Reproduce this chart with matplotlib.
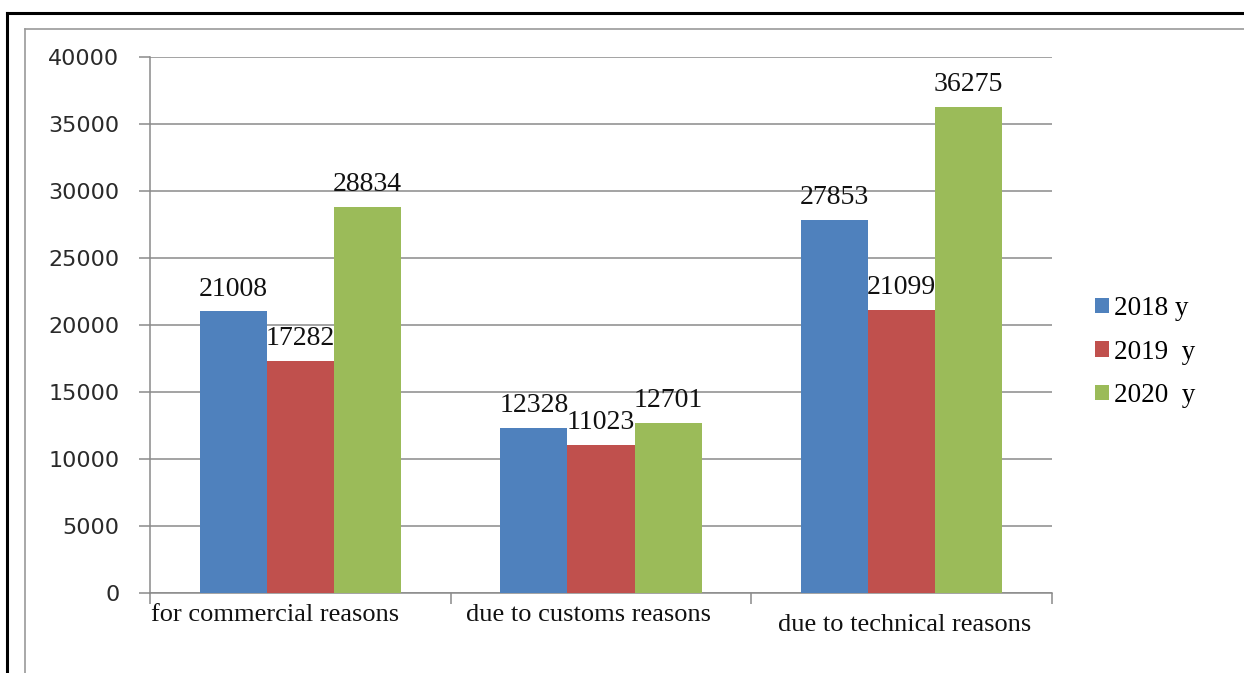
import matplotlib
matplotlib.use("Agg")
import matplotlib.pyplot as plt
import numpy as np
from matplotlib.lines import Line2D

categories = ["for commercial reasons", "due to customs reasons", "due to technical reasons"]
series_labels = ["2018 y", "2019  y", "2020  y"]
values_2018 = [21008, 12328, 27853]
values_2019 = [17282, 11023, 21099]
values_2020 = [28834, 12701, 36275]
y_ticks = [0, 5000, 10000, 15000, 20000, 25000, 30000, 35000, 40000]

colors = ["#4F81BD", "#C0504D", "#9BBB59"]
serif = ["Liberation Serif", "DejaVu Serif"]

fig = plt.figure(figsize=(12.44, 6.73), dpi=100)
W, H = 1244, 673

# decorative frames
fig.add_artist(Line2D([7 / W, 7 / W], [0, 1 - 13 / H], transform=fig.transFigure, color="black", lw=2.2))
fig.add_artist(Line2D([7 / W, 1], [1 - 13 / H, 1 - 13 / H], transform=fig.transFigure, color="black", lw=2.2))
fig.add_artist(Line2D([25 / W, 25 / W], [0, 1 - 29 / H], transform=fig.transFigure, color="#9a9a9a", lw=1.2))
fig.add_artist(Line2D([25 / W, 1], [1 - 29 / H, 1 - 29 / H], transform=fig.transFigure, color="#9a9a9a", lw=1.2))

ax = fig.add_axes([150 / W, (H - 593) / H, (1052 - 150) / W, (593 - 57) / H])

x = np.arange(len(categories))
bw = 0.223
series = [values_2018, values_2019, values_2020]
for i, (vals, col, lab) in enumerate(zip(series, colors, series_labels)):
    pos = x + (i - 1) * bw
    ax.bar(pos, vals, width=bw, color=col, label=lab, zorder=3)
    for xp, v in zip(pos, vals):
        ax.annotate(str(v), (xp, v), xytext=(0, 11.5), textcoords="offset points",
                    ha="center", va="baseline", fontsize=20, family=serif, color="#111111", zorder=4)

ax.set_xlim(-0.5, len(categories) - 0.5)
ax.set_ylim(0, 40000)
ax.set_yticks(y_ticks)
ax.set_yticklabels([str(t) for t in y_ticks], fontsize=16, family=["DejaVu Sans"], color="#2a2a2a")
ax.yaxis.grid(True, color="#8a8a8a", lw=1.1, zorder=0)
ax.set_axisbelow(True)

ax.set_xticks(np.arange(len(categories) + 1) - 0.5)
ax.set_xticklabels([])
ax.tick_params(axis="x", direction="out", length=8, color="#8a8a8a", width=1.1)
ax.tick_params(axis="y", direction="out", length=8, color="#8a8a8a", width=1.1, pad=14)

for s in ["top", "right"]:
    ax.spines[s].set_visible(False)
for s in ["left", "bottom"]:
    ax.spines[s].set_color("#8a8a8a")
    ax.spines[s].set_linewidth(1.1)

# category labels
label_dx = [-0.083, -0.04, 0.01]
label_dy = [-8, -8, -15]
for xi, (cat, dx, dy) in enumerate(zip(categories, label_dx, label_dy)):
    ax.annotate(cat, (xi + dx, 0), xycoords=("data", "axes fraction"), xytext=(0, dy),
                textcoords="offset points", ha="center", va="top", fontsize=19,
                family=serif, color="#111111", annotation_clip=False)

leg = fig.legend(loc="center left", bbox_to_anchor=(1095 / W, 1 - 352 / H), frameon=False,
                 prop={"family": serif, "size": 19.5}, handlelength=0.5, handleheight=0.5,
                 handletextpad=0.2, labelspacing=0.68, borderpad=0, borderaxespad=0)

fig.savefig("out.png", dpi=100)
